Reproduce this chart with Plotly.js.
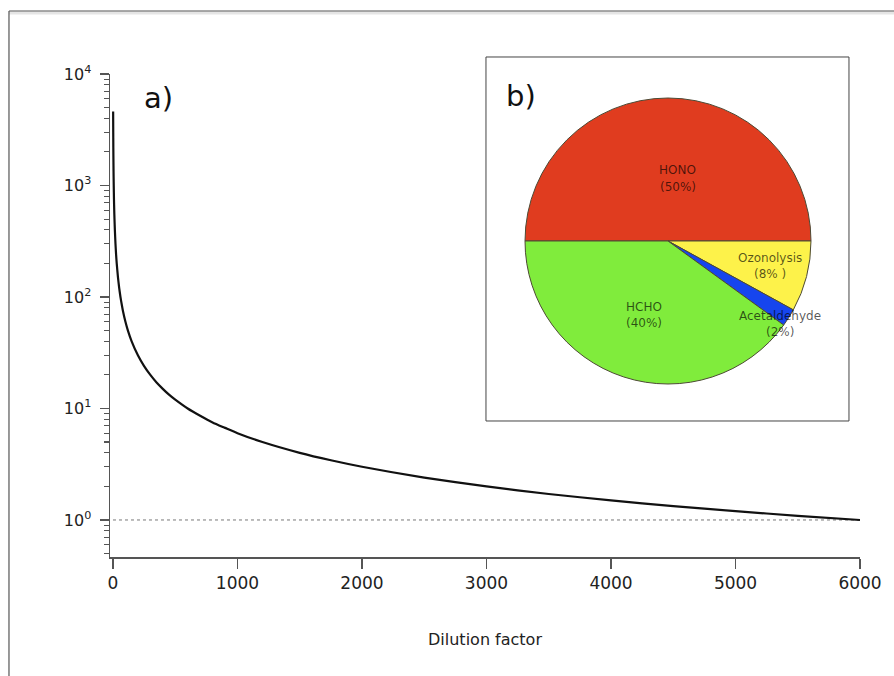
<!DOCTYPE html>
<html>
<head>
<meta charset="utf-8">
<script src="https://cdn.plot.ly/plotly-3.0.1.min.js"></script>
<style>html,body{margin:0;padding:0;background:#fff;}#chart{width:894px;height:676px;}</style>
</head>
<body>
<div id="chart"></div>
<script>
// Panel a) : dilution curve (values read from the picture)
const dilution = [1.3, 1.6, 2, 2.5, 3, 4, 5, 6, 8, 10, 12, 15, 20, 25, 30, 40, 50, 60, 70, 80, 100, 120, 150, 200, 250, 300, 350, 400, 450, 500, 600, 700, 800, 900, 1000, 1200, 1500, 1750, 2000, 2500, 3000, 3500, 4000, 4500, 5000, 5500, 6000];
const ratio    = [4600, 3750, 3000, 2400, 2000, 1500, 1200, 1000, 750, 600, 500, 400, 300, 240, 200, 150, 120, 100, 86, 75, 60, 50, 40, 30, 24, 20, 17.1, 15, 13.3, 12, 10, 8.6, 7.5, 6.7, 6, 5, 4, 3.43, 3, 2.4, 2, 1.71, 1.5, 1.33, 1.2, 1.09, 1.0];
const refLineX = [0, 6000];
const refLineY = [1, 1];

const xTickVals = [0, 1000, 2000, 3000, 4000, 5000, 6000];
const xTickText = ['0', '1000', '2000', '3000', '4000', '5000', '6000'];
const yTickVals = [1, 10, 100, 1000, 10000];
const yTickText = ['10<sup>0</sup>', '10<sup>1</sup>', '10<sup>2</sup>', '10<sup>3</sup>', '10<sup>4</sup>'];
const yMinorVals = [0.5, 0.6, 0.7, 0.8, 0.9, 2, 3, 4, 5, 6, 7, 8, 9, 20, 30, 40, 50, 60, 70, 80, 90,
                    200, 300, 400, 500, 600, 700, 800, 900, 2000, 3000, 4000, 5000, 6000, 7000, 8000, 9000];

// Panel b) : pie
const sources   = ['HONO', 'Ozonolysis', 'Acetaldehyde', 'HCHO'];
const shares    = [50, 8, 2, 40];
const shareText = ['(50%)', '(8% )', '(2%)', '(40%)'];
const sliceColors = ['#e03c1f', '#fdf24a', '#1645ee', '#80ec3c'];

// label positions (paper coords): [x, y of name line, y of percent line]
const labelPos = [[0.7573, 0.8012, 0.7660], [0.88, 0.6190, 0.5859], [0.8933, 0.4990, 0.4658], [0.712, 0.5176, 0.4845]];

const FONT = 'DejaVu Sans, Liberation Sans, Arial, sans-serif';

const traces = [
  {
    type: 'scatter', mode: 'lines',
    x: refLineX, y: refLineY,
    line: {color: '#777', width: 1, dash: 'dot'},
    hoverinfo: 'skip', showlegend: false
  },
  {
    type: 'scatter', mode: 'lines',
    x: dilution, y: ratio,
    line: {color: '#111', width: 2.2, shape: 'spline', smoothing: 0.6},
    showlegend: false
  },
  {
    type: 'pie',
    labels: sources, values: shares,
    sort: false, direction: 'clockwise', rotation: -90,
    marker: {colors: sliceColors, line: {color: '#4d4a35', width: 1}},
    textinfo: 'none', hoverinfo: 'label+percent',
    domain: {x: [0.5533, 0.9347], y: [0.3582, 0.9503]},
    showlegend: false
  }
];

const labelFont = {family: FONT, size: 12, color: 'rgba(0,0,0,0.66)'};
const annotations = [];
sources.forEach((s, i) => {
  annotations.push({xref: 'paper', yref: 'paper', x: labelPos[i][0], y: labelPos[i][1],
    text: s, showarrow: false, font: labelFont, xanchor: 'center', yanchor: 'middle'});
  annotations.push({xref: 'paper', yref: 'paper', x: labelPos[i][0], y: labelPos[i][2],
    text: shareText[i], showarrow: false, font: labelFont, xanchor: 'center', yanchor: 'middle'});
});
annotations.push(
  {xref: 'paper', yref: 'paper', x: 0.0653, y: 0.9503, text: 'a)', showarrow: false,
   font: {family: FONT, size: 29, color: '#111'}, xanchor: 'center', yanchor: 'middle'},
  {xref: 'paper', yref: 'paper', x: 0.548, y: 0.9545, text: 'b)', showarrow: false,
   font: {family: FONT, size: 29, color: '#111'}, xanchor: 'center', yanchor: 'middle'}
);

const layout = {
  width: 894, height: 676,
  margin: {l: 110, r: 34, t: 74, b: 119, pad: 0},
  paper_bgcolor: '#fff', plot_bgcolor: 'rgba(0,0,0,0)',
  showlegend: false,
  font: {family: FONT, color: '#222'},
  xaxis: {
    range: [-24, 6000], showgrid: false, zeroline: false,
    showline: true, linecolor: '#555', linewidth: 1.5,
    tickmode: 'array', tickvals: xTickVals, ticktext: xTickText,
    ticks: 'outside', ticklen: 10, tickwidth: 1.4, tickcolor: '#555',
    tickfont: {family: FONT, size: 17, color: '#222'},
    title: {text: 'Dilution factor', font: {family: FONT, size: 16, color: '#222'}, standoff: 42}
  },
  yaxis: {
    type: 'log', range: [-0.332, 4], showgrid: false, zeroline: false,
    showline: true, linecolor: '#555', linewidth: 1.5,
    tickmode: 'array', tickvals: yTickVals, ticktext: yTickText,
    ticks: 'outside', ticklen: 9, tickwidth: 1.4, tickcolor: '#555',
    ticklabelstandoff: 5,
    tickfont: {family: FONT, size: 16, color: '#222'},
    minor: {tickmode: 'array', tickvals: yMinorVals, ticks: 'outside', ticklen: 5, tickwidth: 1.1, tickcolor: '#555', showgrid: false}
  },
  shapes: [
    // inset frame for panel b)
    {type: 'rect', xref: 'paper', yref: 'paper', x0: 0.5013, x1: 0.9853, y0: 0.2816, y1: 1.0352,
     line: {color: '#444', width: 1}, fillcolor: '#fff', layer: 'below'},
    // slide border + shadow
    {type: 'line', xref: 'paper', yref: 'paper', x0: -0.1347, x1: 1.046, y0: 1.1263, y1: 1.1263,
     line: {color: 'rgba(0,0,0,0.10)', width: 3}},
    {type: 'line', xref: 'paper', yref: 'paper', x0: -0.1347, x1: 1.046, y0: 1.1304, y1: 1.1304,
     line: {color: '#555', width: 1.2}},
    {type: 'line', xref: 'paper', yref: 'paper', x0: -0.1347, x1: -0.1347, y0: 1.1304, y1: -0.25,
     line: {color: '#555', width: 1.2}}
  ],
  annotations: annotations
};

Plotly.newPlot('chart', traces, layout, {displayModeBar: false, staticPlot: true});
</script>
</body>
</html>
